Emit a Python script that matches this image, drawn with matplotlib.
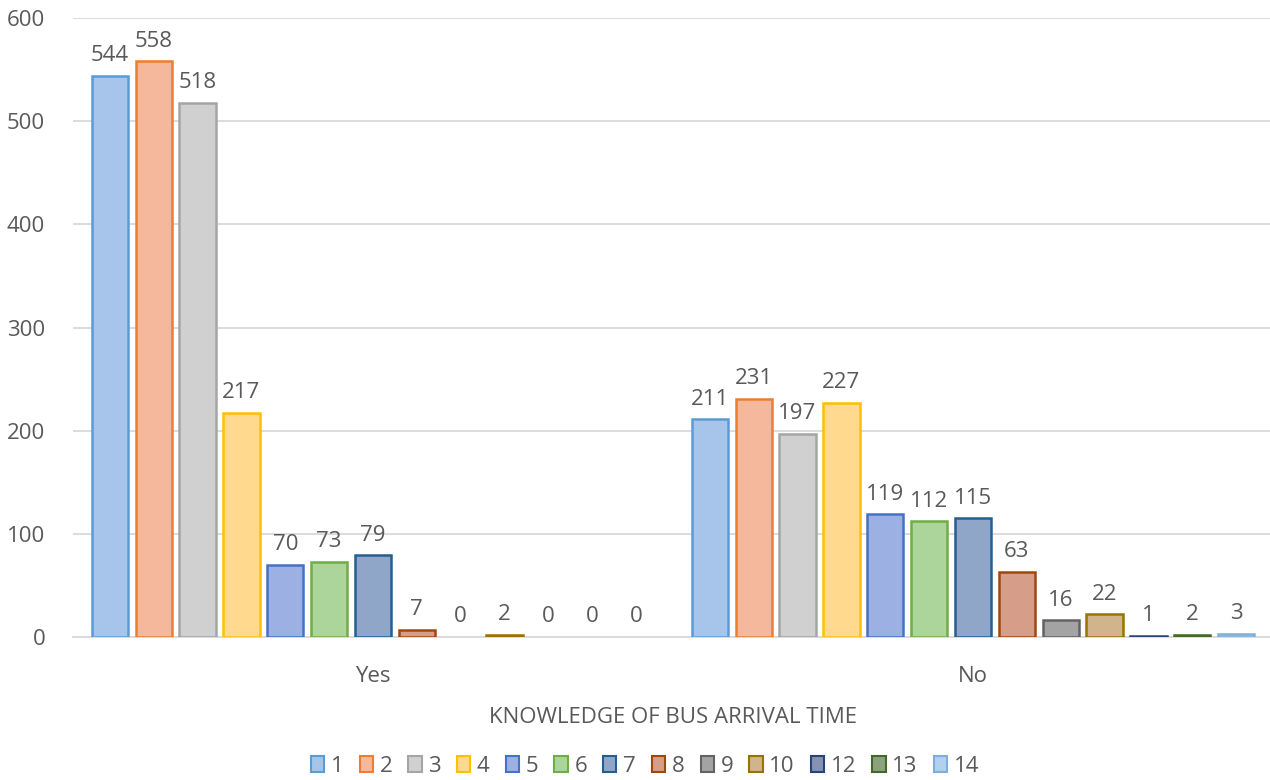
import numpy as np
import matplotlib
matplotlib.use("Agg")
import matplotlib.pyplot as plt
from matplotlib.patches import Patch

# Data
categories = ["Yes", "No"]
series = ["1", "2", "3", "4", "5", "6", "7", "8", "9", "10", "12", "13", "14"]
values = {
    "1":  [544, 211],
    "2":  [558, 231],
    "3":  [518, 197],
    "4":  [217, 227],
    "5":  [70, 119],
    "6":  [73, 112],
    "7":  [79, 115],
    "8":  [7, 63],
    "9":  [0, 16],
    "10": [2, 22],
    "12": [0, 1],
    "13": [0, 2],
    "14": [0, 3],
}

# Excel-ish fills (light) and outlines (theme colours)
fills = ["#A7C5EA", "#F5B89D", "#D0D0D0", "#FFDA8E", "#9DB0E4", "#ACD59C",
         "#8FA6C8", "#D69D88", "#A3A3A3", "#CFB48C", "#8592B2", "#8CA27C", "#B3D1EF"]
edges = ["#5B9BD5", "#ED7D31", "#A5A5A5", "#FFC000", "#4472C4", "#70AD47",
         "#255E91", "#9E480E", "#636363", "#997300", "#264478", "#43682B", "#7CAFDD"]

TXT = "#595959"
FS = 16
plt.rcParams["font.family"] = ["Open Sans", "DejaVu Sans"]

fig = plt.figure(figsize=(12.7, 7.8), dpi=100)
ax = fig.add_axes([73 / 1270, 1 - 637 / 780, 1200 / 1270, 619 / 780])

x = np.arange(len(categories))
pitch = 0.0731
width = 0.0603
n = len(series)

for i, s in enumerate(series):
    offs = (i - (n - 1) / 2) * pitch
    vals = values[s]
    lws = [1.8 if v > 0 else 0 for v in vals]
    ax.bar(x + offs, vals, width=width, color=fills[i], edgecolor=edges[i],
           linewidth=lws, zorder=3)
    for xi, v in zip(x, vals):
        ax.annotate(str(v), (xi + offs, v), xytext=(0, 7), textcoords="offset points",
                    ha="center", va="bottom", fontsize=FS, color=TXT)

ax.set_xlim(-0.5, 1.5)
ax.set_ylim(0, 600)
ax.set_yticks(range(0, 601, 100))
ax.set_xticks(x)
ax.set_xticklabels(categories)
ax.tick_params(axis="y", length=0, pad=20, labelsize=FS, labelcolor=TXT)
ax.tick_params(axis="x", length=0, pad=21, labelsize=FS, labelcolor=TXT)
ax.grid(True, axis="y", color="#D9D9D9", linewidth=1.3, zorder=0)
for sp in ["top", "right", "left"]:
    ax.spines[sp].set_visible(False)
ax.spines["bottom"].set_color("#D9D9D9")
ax.spines["bottom"].set_linewidth(1.3)

ax.set_xlabel("KNOWLEDGE OF BUS ARRIVAL TIME", fontsize=FS, color=TXT, labelpad=14)

handles = [Patch(facecolor=fills[i], edgecolor=edges[i], linewidth=1.5, label=s)
           for i, s in enumerate(series)]
leg = fig.legend(handles=handles, loc="center", bbox_to_anchor=(645 / 1270, 1 - 766 / 780),
                 ncol=n, frameon=False, fontsize=FS, handlelength=0.6, handleheight=0.7,
                 handletextpad=0.3, columnspacing=0.72, labelcolor=TXT)

fig.savefig("out.png", dpi=100)
